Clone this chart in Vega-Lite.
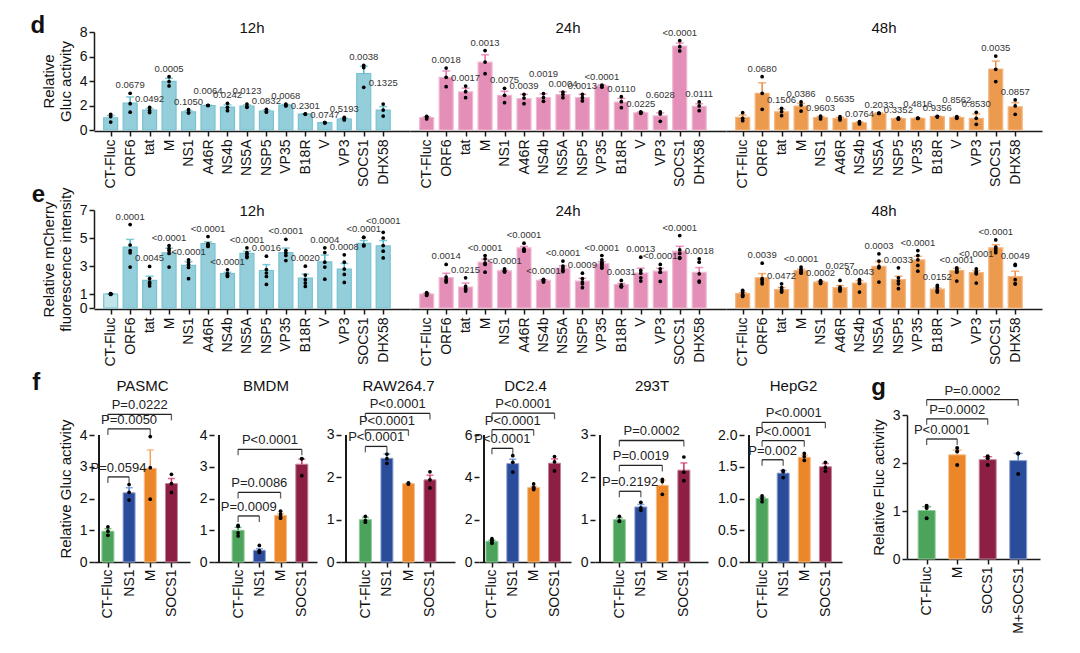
{
  "$schema": "https://vega.github.io/schema/vega-lite/v6.json",
  "background": "white",
  "padding": {"left": 30, "top": 13, "right": 4, "bottom": 4},
  "config": {
    "font": "Liberation Sans",
    "view": {"stroke": null},
    "axis": {"domainColor": "#1a1a1a", "domainWidth": 1.5, "tickColor": "#1a1a1a", "tickWidth": 1.5, "tickSize": 5, "labelFontSize": 14, "labelColor": "#111", "titleFontSize": 15, "titleFontWeight": "normal", "titleColor": "#111", "grid": false, "labelPadding": 2, "titlePadding": 6},
    "title": {"fontSize": 15, "fontWeight": "normal", "color": "#111"},
    "header": {"labelFontSize": 15, "labelColor": "#111", "labelFont": "Liberation Sans"}
  },
  "resolve": {"scale": {"fill": "independent", "stroke": "independent", "color": "independent"}},
  "spacing": 5,
  "datasets": {
    "d": [
      {"t": "12h", "g": "CT-Fluc", "m": 1.0, "e": 0.18, "pts": [1.28, 1.1, 0.65]},
      {"t": "12h", "g": "ORF6", "m": 2.2, "e": 0.5, "pts": [3.0, 2.15, 1.45], "p": "0.0679"},
      {"t": "12h", "g": "tat", "m": 1.62, "e": 0.13, "pts": [1.85, 1.6, 1.42], "p": "0.0492"},
      {"t": "12h", "g": "M", "m": 3.97, "e": 0.25, "pts": [4.35, 3.95, 3.6], "p": "0.0005"},
      {"t": "12h", "g": "NS1", "m": 1.48, "e": 0.1, "pts": [1.66, 1.4, 1.4], "p": "0.1050"},
      {"t": "12h", "g": "A46R", "m": 2.0, "e": 0.02, "pts": [2.02, 2.0, 2.0], "p": "0.0064", "ly": 2.53},
      {"t": "12h", "g": "NS4b", "m": 1.87, "e": 0.18, "pts": [2.18, 1.85, 1.58], "p": "0.0242"},
      {"t": "12h", "g": "NS5A", "m": 1.96, "e": 0.08, "pts": [2.12, 1.9, 1.85], "p": "0.0123", "ly": 2.55},
      {"t": "12h", "g": "NSP5", "m": 1.55, "e": 0.07, "pts": [1.69, 1.47, 1.47], "p": "0.0832"},
      {"t": "12h", "g": "VP35", "m": 2.03, "e": 0.05, "pts": [2.12, 2.0, 1.96], "p": "0.0068"},
      {"t": "12h", "g": "B18R", "m": 1.3, "e": 0.01, "pts": [1.3, 1.3, 1.3], "p": "0.2301"},
      {"t": "12h", "g": "V", "m": 0.6, "e": 0.01, "pts": [0.6, 0.6, 0.6], "p": "0.0747"},
      {"t": "12h", "g": "VP3", "m": 0.9, "e": 0.06, "pts": [1.03, 0.93, 0.82], "p": "0.5193"},
      {"t": "12h", "g": "SOCS1", "m": 4.6, "e": 0.6, "pts": [5.28, 5.1, 3.48], "p": "0.0038"},
      {"t": "12h", "g": "DHX58", "m": 1.63, "e": 0.28, "pts": [2.12, 1.63, 1.14], "p": "0.1325", "ly": 3.16},
      {"t": "24h", "g": "CT-Fluc", "m": 1.02, "e": 0.05, "pts": [1.12, 1.05, 0.9]},
      {"t": "24h", "g": "ORF6", "m": 4.3, "e": 0.52, "pts": [5.06, 4.3, 3.54], "p": "0.0018"},
      {"t": "24h", "g": "tat", "m": 3.12, "e": 0.3, "pts": [3.59, 3.13, 2.64], "p": "0.0017"},
      {"t": "24h", "g": "M", "m": 5.54, "e": 0.6, "pts": [6.48, 5.55, 4.6], "p": "0.0013"},
      {"t": "24h", "g": "NS1", "m": 2.82, "e": 0.35, "pts": [3.4, 2.83, 2.23], "p": "0.0075"},
      {"t": "24h", "g": "A46R", "m": 2.56, "e": 0.35, "pts": [2.91, 2.61, 2.15], "p": "0.0039"},
      {"t": "24h", "g": "NS4b", "m": 2.65, "e": 0.3, "pts": [2.97, 2.64, 2.34], "p": "0.0019", "ly": 3.92},
      {"t": "24h", "g": "NS5A", "m": 2.88, "e": 0.24, "pts": [3.1, 2.91, 2.64], "p": "0.0004"},
      {"t": "24h", "g": "NSP5", "m": 2.64, "e": 0.27, "pts": [2.91, 2.64, 2.37], "p": "0.0013"},
      {"t": "24h", "g": "VP35", "m": 3.6, "e": 0.08, "pts": [3.67, 3.59, 3.5], "p": "<0.0001"},
      {"t": "24h", "g": "B18R", "m": 2.28, "e": 0.3, "pts": [2.72, 2.31, 1.82], "p": "0.0110"},
      {"t": "24h", "g": "V", "m": 1.41, "e": 0.05, "pts": [1.47, 1.41, 1.36], "p": "0.0225"},
      {"t": "24h", "g": "VP3", "m": 1.16, "e": 0.23, "pts": [1.47, 1.31, 0.71], "p": "0.6028", "ly": 2.23},
      {"t": "24h", "g": "SOCS1", "m": 6.85, "e": 0.25, "pts": [7.29, 6.8, 6.45], "p": "<0.0001"},
      {"t": "24h", "g": "DHX58", "m": 1.94, "e": 0.2, "pts": [2.29, 1.96, 1.58], "p": "0.0111"},
      {"t": "48h", "g": "CT-Fluc", "m": 1.04, "e": 0.18, "pts": [1.41, 0.95, 0.76]},
      {"t": "48h", "g": "ORF6", "m": 3.0, "e": 0.85, "pts": [4.35, 2.99, 1.69], "p": "0.0680"},
      {"t": "48h", "g": "tat", "m": 1.48, "e": 0.2, "pts": [1.77, 1.5, 1.17], "p": "0.1506"},
      {"t": "48h", "g": "M", "m": 1.95, "e": 0.22, "pts": [2.29, 2.04, 1.55], "p": "0.0386"},
      {"t": "48h", "g": "NS1", "m": 1.02, "e": 0.08, "pts": [1.14, 1.03, 0.9], "p": "0.9603"},
      {"t": "48h", "g": "A46R", "m": 0.95, "e": 0.08, "pts": [1.09, 0.95, 0.82], "p": "0.5635", "ly": 1.85},
      {"t": "48h", "g": "NS4b", "m": 0.59, "e": 0.06, "pts": [0.68, 0.6, 0.49], "p": "0.0764"},
      {"t": "48h", "g": "NS5A", "m": 1.36, "e": 0.02, "pts": [1.37, 1.36, 1.35], "p": "0.2033"},
      {"t": "48h", "g": "NSP5", "m": 0.93, "e": 0.04, "pts": [0.98, 0.93, 0.88], "p": "0.3352"},
      {"t": "48h", "g": "VP35", "m": 0.95, "e": 0.02, "pts": [0.97, 0.95, 0.94], "p": "0.4816", "ly": 1.44},
      {"t": "48h", "g": "B18R", "m": 1.09, "e": 0.03, "pts": [1.12, 1.1, 1.06], "p": "0.9356"},
      {"t": "48h", "g": "V", "m": 1.02, "e": 0.05, "pts": [1.09, 1.03, 0.95], "p": "0.8562", "ly": 1.8},
      {"t": "48h", "g": "VP3", "m": 0.95, "e": 0.36, "pts": [1.44, 0.95, 0.46], "p": "0.8530"},
      {"t": "48h", "g": "SOCS1", "m": 4.98, "e": 0.65, "pts": [6.04, 4.95, 3.95], "p": "0.0035"},
      {"t": "48h", "g": "DHX58", "m": 1.9, "e": 0.33, "pts": [2.45, 1.96, 1.28], "p": "0.0857"}
    ],
    "e": [
      {"t": "12h", "g": "CT-Fluc", "m": 1.0, "e": 0.02, "pts": [1.03, 1.01, 1.0, 0.99, 0.97]},
      {"t": "12h", "g": "ORF6", "m": 4.35, "e": 0.55, "pts": [5.96, 4.5, 4.1, 3.94, 2.92], "p": "0.0001"},
      {"t": "12h", "g": "tat", "m": 1.97, "e": 0.3, "pts": [2.97, 2.1, 1.85, 1.75, 1.58], "p": "0.0045"},
      {"t": "12h", "g": "M", "m": 3.94, "e": 0.33, "pts": [4.46, 4.25, 4.1, 3.9, 2.92], "p": "<0.0001"},
      {"t": "12h", "g": "NS1", "m": 3.04, "e": 0.28, "pts": [3.44, 3.25, 3.1, 2.9, 2.09], "p": "<0.0001"},
      {"t": "12h", "g": "A46R", "m": 4.6, "e": 0.12, "pts": [5.1, 4.6, 4.55, 4.45, 4.4], "p": "<0.0001"},
      {"t": "12h", "g": "NS4b", "m": 2.45, "e": 0.1, "pts": [2.73, 2.45, 2.35, 2.3, 2.25], "p": "<0.0001"},
      {"t": "12h", "g": "NS5A", "m": 3.9, "e": 0.15, "pts": [4.3, 3.95, 3.85, 3.7, 3.6], "p": "<0.0001"},
      {"t": "12h", "g": "NSP5", "m": 2.68, "e": 0.42, "pts": [3.7, 2.75, 2.5, 2.25, 1.68], "p": "0.0016"},
      {"t": "12h", "g": "VP35", "m": 3.96, "e": 0.32, "pts": [4.91, 4.1, 3.92, 3.75, 3.39], "p": "<0.0001"},
      {"t": "12h", "g": "B18R", "m": 2.14, "e": 0.28, "pts": [2.99, 2.35, 2.02, 1.78, 1.54], "p": "0.0020"},
      {"t": "12h", "g": "V", "m": 3.3, "e": 0.48, "pts": [4.3, 3.96, 3.27, 2.92, 2.06], "p": "0.0004"},
      {"t": "12h", "g": "VP3", "m": 2.78, "e": 0.4, "pts": [3.8, 3.27, 2.78, 2.4, 1.83], "p": "0.0008"},
      {"t": "12h", "g": "SOCS1", "m": 4.62, "e": 0.2, "pts": [5.05, 5.05, 4.5, 4.45, 4.45], "p": "<0.0001"},
      {"t": "12h", "g": "DHX58", "m": 4.44, "e": 0.38, "pts": [5.41, 5.0, 4.46, 4.06, 3.58], "p": "<0.0001", "ly": 5.67},
      {"t": "24h", "g": "CT-Fluc", "m": 1.0, "e": 0.04, "pts": [1.1, 1.05, 1.0, 0.95, 0.9]},
      {"t": "24h", "g": "ORF6", "m": 2.18, "e": 0.3, "pts": [3.11, 2.21, 2.02, 1.92, 1.85], "p": "0.0014"},
      {"t": "24h", "g": "tat", "m": 1.5, "e": 0.28, "pts": [2.16, 1.54, 1.38, 1.31, 1.21], "p": "0.0215"},
      {"t": "24h", "g": "M", "m": 3.27, "e": 0.2, "pts": [3.75, 3.51, 3.2, 3.11, 2.56], "p": "<0.0001"},
      {"t": "24h", "g": "NS1", "m": 2.65, "e": 0.05, "pts": [2.8, 2.68, 2.62, 2.58, 2.6], "p": "<0.0001"},
      {"t": "24h", "g": "A46R", "m": 4.3, "e": 0.1, "pts": [4.63, 4.22, 4.15, 4.1, 4.06], "p": "<0.0001"},
      {"t": "24h", "g": "NS4b", "m": 1.97, "e": 0.05, "pts": [2.05, 2.0, 1.95, 1.92, 1.85], "p": "<0.0001"},
      {"t": "24h", "g": "NS5A", "m": 2.85, "e": 0.15, "pts": [3.35, 3.0, 2.85, 2.7, 2.6], "p": "<0.0001"},
      {"t": "24h", "g": "NSP5", "m": 1.92, "e": 0.2, "pts": [2.49, 2.09, 1.85, 1.73, 1.45], "p": "0.0009"},
      {"t": "24h", "g": "VP35", "m": 3.16, "e": 0.15, "pts": [3.75, 3.44, 3.27, 3.2, 3.1, 3.0, 2.9, 2.85], "p": "<0.0001"},
      {"t": "24h", "g": "B18R", "m": 1.68, "e": 0.08, "pts": [1.97, 1.65, 1.55, 1.55, 1.5], "p": "0.0031"},
      {"t": "24h", "g": "V", "m": 2.49, "e": 0.35, "pts": [3.63, 2.68, 2.49, 2.16, 1.92], "p": "0.0013"},
      {"t": "24h", "g": "VP3", "m": 2.63, "e": 0.2, "pts": [3.11, 2.8, 2.56, 2.56, 1.9], "p": "<0.0001"},
      {"t": "24h", "g": "SOCS1", "m": 4.06, "e": 0.35, "pts": [5.17, 4.15, 3.9, 3.6, 3.55], "p": "<0.0001"},
      {"t": "24h", "g": "DHX58", "m": 2.54, "e": 0.35, "pts": [3.51, 3.27, 2.44, 1.92, 1.85], "p": "0.0018"},
      {"t": "48h", "g": "CT-Fluc", "m": 1.02, "e": 0.08, "pts": [1.26, 1.14, 0.97, 0.9, 0.83]},
      {"t": "48h", "g": "ORF6", "m": 2.16, "e": 0.3, "pts": [3.2, 2.09, 2.02, 1.85, 1.73], "p": "0.0039"},
      {"t": "48h", "g": "tat", "m": 1.31, "e": 0.15, "pts": [1.73, 1.45, 1.31, 1.21, 1.14], "p": "0.0472"},
      {"t": "48h", "g": "M", "m": 2.68, "e": 0.1, "pts": [2.92, 2.75, 2.68, 2.55, 2.49], "p": "<0.0001"},
      {"t": "48h", "g": "NS1", "m": 1.85, "e": 0.06, "pts": [1.95, 1.9, 1.85, 1.8, 1.75], "p": "0.0002"},
      {"t": "48h", "g": "A46R", "m": 1.45, "e": 0.15, "pts": [1.97, 1.5, 1.38, 1.31, 1.21], "p": "0.0257", "ly": 2.4},
      {"t": "48h", "g": "NS4b", "m": 1.78, "e": 0.18, "pts": [2.02, 1.92, 1.8, 1.75, 1.14], "p": "0.0043"},
      {"t": "48h", "g": "NS5A", "m": 2.97, "e": 0.35, "pts": [3.87, 3.35, 2.97, 2.87, 1.85], "p": "0.0003"},
      {"t": "48h", "g": "NSP5", "m": 2.02, "e": 0.25, "pts": [2.87, 2.16, 1.92, 1.73, 1.38], "p": "0.0033"},
      {"t": "48h", "g": "VP35", "m": 3.44, "e": 0.25, "pts": [4.1, 3.75, 3.44, 3.04, 2.63], "p": "<0.0001"},
      {"t": "48h", "g": "B18R", "m": 1.35, "e": 0.08, "pts": [1.61, 1.5, 1.31, 1.21, 1.14], "p": "0.0152"},
      {"t": "48h", "g": "V", "m": 2.68, "e": 0.15, "pts": [2.87, 2.75, 2.63, 2.56, 1.92], "p": "<0.0001"},
      {"t": "48h", "g": "VP3", "m": 2.52, "e": 0.15, "pts": [2.8, 2.6, 2.5, 2.44, 1.78], "p": "<0.0001", "ly": 3.3},
      {"t": "48h", "g": "SOCS1", "m": 4.3, "e": 0.22, "pts": [4.86, 4.35, 4.25, 4.1, 3.95], "p": "<0.0001"},
      {"t": "48h", "g": "DHX58", "m": 2.25, "e": 0.38, "pts": [3.11, 3.04, 2.02, 1.73, 1.73], "p": "0.0049"}
    ],
    "f": [
      {"c": "PASMC", "g": "CT-Fluc", "m": 0.97, "e": 0.08, "pts": [1.11, 0.97, 0.84]},
      {"c": "PASMC", "g": "NS1", "m": 2.18, "e": 0.16, "pts": [2.44, 2.19, 1.95]},
      {"c": "PASMC", "g": "M", "m": 2.95, "e": 0.58, "pts": [3.95, 2.97, 1.98]},
      {"c": "PASMC", "g": "SOCS1", "m": 2.47, "e": 0.16, "pts": [2.76, 2.47, 2.19]},
      {"c": "PASMC", "b": "NS1", "h": 2.68, "p": "P=0.0594"},
      {"c": "PASMC", "b": "M", "h": 4.19, "p": "P=0.0050"},
      {"c": "PASMC", "b": "SOCS1", "h": 4.65, "p": "P=0.0222"},
      {"c": "BMDM", "g": "CT-Fluc", "m": 1.0, "e": 0.09, "pts": [1.15, 1.12, 0.92, 0.82]},
      {"c": "BMDM", "g": "NS1", "m": 0.37, "e": 0.05, "pts": [0.52, 0.36, 0.32, 0.3]},
      {"c": "BMDM", "g": "M", "m": 1.47, "e": 0.06, "pts": [1.6, 1.5, 1.42, 1.38]},
      {"c": "BMDM", "g": "SOCS1", "m": 3.08, "e": 0.16, "pts": [3.26, 3.25, 2.72]},
      {"c": "BMDM", "b": "NS1", "h": 1.45, "p": "P=0.0009"},
      {"c": "BMDM", "b": "M", "h": 2.19, "p": "P=0.0086"},
      {"c": "BMDM", "b": "SOCS1", "h": 3.55, "p": "P<0.0001"},
      {"c": "RAW264.7", "g": "CT-Fluc", "m": 1.0, "e": 0.05, "pts": [1.08, 0.98, 0.94]},
      {"c": "RAW264.7", "g": "NS1", "m": 2.45, "e": 0.1, "pts": [2.55, 2.44, 2.33]},
      {"c": "RAW264.7", "g": "M", "m": 1.85, "e": 0.01, "pts": [1.84, 1.87, 1.85]},
      {"c": "RAW264.7", "g": "SOCS1", "m": 1.94, "e": 0.11, "pts": [2.13, 1.94, 1.75]},
      {"c": "RAW264.7", "b": "NS1", "h": 2.73, "p": "P<0.0001"},
      {"c": "RAW264.7", "b": "M", "h": 3.12, "p": "P<0.0001"},
      {"c": "RAW264.7", "b": "SOCS1", "h": 3.51, "p": "P<0.0001"},
      {"c": "DC2.4", "g": "CT-Fluc", "m": 0.98, "e": 0.05, "pts": [1.1, 1.03, 0.95, 0.88]},
      {"c": "DC2.4", "g": "NS1", "m": 4.65, "e": 0.2, "pts": [5.02, 4.71, 4.25]},
      {"c": "DC2.4", "g": "M", "m": 3.52, "e": 0.05, "pts": [3.69, 3.53, 3.47, 3.42]},
      {"c": "DC2.4", "g": "SOCS1", "m": 4.67, "e": 0.2, "pts": [4.98, 4.73, 4.3]},
      {"c": "DC2.4", "b": "NS1", "h": 5.37, "p": "P<0.0001"},
      {"c": "DC2.4", "b": "M", "h": 6.25, "p": "P<0.0001"},
      {"c": "DC2.4", "b": "SOCS1", "h": 7.03, "p": "P<0.0001"},
      {"c": "293T", "g": "CT-Fluc", "m": 1.0, "e": 0.04, "pts": [1.08, 0.97, 0.96]},
      {"c": "293T", "g": "NS1", "m": 1.3, "e": 0.06, "pts": [1.41, 1.28, 1.22]},
      {"c": "293T", "g": "M", "m": 1.81, "e": 0.12, "pts": [1.95, 1.9, 1.6]},
      {"c": "293T", "g": "SOCS1", "m": 2.17, "e": 0.17, "pts": [2.48, 2.12, 1.92]},
      {"c": "293T", "b": "NS1", "h": 1.67, "p": "P=0.2192"},
      {"c": "293T", "b": "M", "h": 2.28, "p": "P=0.0019"},
      {"c": "293T", "b": "SOCS1", "h": 2.87, "p": "P=0.0002"},
      {"c": "HepG2", "g": "CT-Fluc", "m": 1.0, "e": 0.02, "pts": [1.04, 1.0, 0.95]},
      {"c": "HepG2", "g": "NS1", "m": 1.4, "e": 0.04, "pts": [1.44, 1.42, 1.33]},
      {"c": "HepG2", "g": "M", "m": 1.65, "e": 0.03, "pts": [1.71, 1.66, 1.6]},
      {"c": "HepG2", "g": "SOCS1", "m": 1.5, "e": 0.05, "pts": [1.57, 1.49, 1.43]},
      {"c": "HepG2", "b": "NS1", "h": 1.61, "p": "P=0.002"},
      {"c": "HepG2", "b": "M", "h": 1.91, "p": "P<0.0001"},
      {"c": "HepG2", "b": "SOCS1", "h": 2.2, "p": "P<0.0001"},
      {"c": "g", "g": "CT-Fluc", "m": 1.01, "e": 0.08, "pts": [1.11, 1.06, 0.85]},
      {"c": "g", "g": "M", "m": 2.17, "e": 0.1, "pts": [2.31, 2.24, 1.96]},
      {"c": "g", "g": "SOCS1", "m": 2.07, "e": 0.06, "pts": [2.14, 2.1, 1.96]},
      {"c": "g", "g": "M+SOCS1", "m": 2.05, "e": 0.15, "pts": [2.2, 2.2, 1.77]},
      {"c": "g", "b": "M", "h": 2.5, "p": "P<0.0001"},
      {"c": "g", "b": "SOCS1", "h": 2.92, "p": "P=0.0002"},
      {"c": "g", "b": "M+SOCS1", "h": 3.32, "p": "P=0.0002"}
    ]
  },
  "vconcat": [
    {
      "spacing": -6,
      "vconcat": [
        {
          "data": {"name": "d"},
          "transform": [
            {"window": [{"op": "row_number", "as": "rn"}], "groupby": ["t"]},
            {"calculate": "datum.rn - 1", "as": "i"},
            {"calculate": "datum.m + datum.e", "as": "hi"},
            {"calculate": "isValid(datum.ly) ? datum.ly : max(datum.m + datum.e, datum.pts[0])", "as": "lab"}
          ],
          "title": {"text": "d", "orient": "left", "angle": 0, "anchor": "end", "align": "left", "baseline": "top", "fontSize": 24, "fontWeight": "bold", "offset": -4, "dy": -7},
          "facet": {"column": {"field": "t", "type": "nominal", "header": {"title": null, "labelPadding": -8.5}}},
          "spacing": 0,
          "spec": {
            "width": 316,
            "height": 98,
            "encoding": {
              "x": {"field": "i", "type": "quantitative", "scale": {"domain": [-0.6, 15.12]}, "axis": {"title": null, "values": [0, 1, 2, 3, 4, 5, 6, 7, 8, 9, 10, 11, 12, 13, 14], "labelExpr": "['CT-Fluc', 'ORF6', 'tat', 'M', 'NS1', 'A46R', 'NS4b', 'NS5A', 'NSP5', 'VP35', 'B18R', 'V', 'VP3', 'SOCS1', 'DHX58'][datum.value]", "labelAngle": -90, "labelPadding": 3, "labelFontSize": 14}},
              "y": {"field": "m", "type": "quantitative", "scale": {"domain": [0, 8]}, "axis": {"values": [0, 2, 4, 6, 8], "title": ["Relative", "Gluc activity"]}}
            },
            "layer": [
              {"mark": {"type": "bar", "orient": "vertical", "width": 14, "strokeWidth": 1.2},
               "encoding": {
                 "fill": {"field": "t", "type": "nominal", "scale": {"domain": ["12h", "24h", "48h"], "range": ["#94CEDA", "#E38FB8", "#EC9A4E"]}, "legend": null},
                 "stroke": {"field": "t", "type": "nominal", "scale": {"domain": ["12h", "24h", "48h"], "range": ["#78C3D1", "#F0B8D2", "#F4B783"]}, "legend": null}}},
              {"mark": {"type": "rule", "strokeWidth": 1.5},
               "encoding": {"y2": {"field": "hi"}, "color": {"field": "t", "type": "nominal", "scale": {"domain": ["12h", "24h", "48h"], "range": ["#4CB5C6", "#E46AA6", "#EE8A3A"]}, "legend": null}}},
              {"mark": {"type": "tick", "orient": "horizontal", "size": 8, "thickness": 1.5},
               "encoding": {"y": {"field": "hi", "type": "quantitative"}, "color": {"field": "t", "type": "nominal", "scale": {"domain": ["12h", "24h", "48h"], "range": ["#4CB5C6", "#E46AA6", "#EE8A3A"]}, "legend": null}}},
              {"transform": [
                 {"flatten": ["pts"], "as": ["v"]},
                 {"window": [{"op": "row_number", "as": "k"}], "groupby": ["t", "g"]},
                 {"joinaggregate": [{"op": "count", "as": "n"}], "groupby": ["t", "g"]},
                 {"calculate": "datum.k - (datum.n + 1) / 2", "as": "o"}],
               "mark": {"type": "circle", "size": 14, "color": "#000", "opacity": 1},
               "encoding": {"y": {"field": "v", "type": "quantitative"}, "xOffset": {"field": "o", "type": "quantitative", "scale": {"domain": [-2, 2], "range": [-8, 8]}}}},
              {"transform": [{"filter": "isValid(datum.p)"}],
               "mark": {"type": "text", "fontSize": 9.5, "dy": -8, "color": "#333"},
               "encoding": {"y": {"field": "lab", "type": "quantitative"}, "text": {"field": "p"}}}
            ]
          }
        },
        {
          "data": {"name": "e"},
          "transform": [
            {"window": [{"op": "row_number", "as": "rn"}], "groupby": ["t"]},
            {"calculate": "datum.rn - 1", "as": "i"},
            {"calculate": "datum.m + datum.e", "as": "hi"},
            {"calculate": "isValid(datum.ly) ? datum.ly : max(datum.m + datum.e, datum.pts[0])", "as": "lab"}
          ],
          "title": {"text": "e", "orient": "left", "angle": 0, "anchor": "end", "align": "left", "baseline": "top", "fontSize": 24, "fontWeight": "bold", "offset": -4, "dy": -4},
          "facet": {"column": {"field": "t", "type": "nominal", "header": {"title": null, "labelPadding": -8.5}}},
          "spacing": 0,
          "spec": {
            "width": 316,
            "height": 98,
            "encoding": {
              "x": {"field": "i", "type": "quantitative", "scale": {"domain": [-0.6, 15.12]}, "axis": {"title": null, "values": [0, 1, 2, 3, 4, 5, 6, 7, 8, 9, 10, 11, 12, 13, 14], "labelExpr": "['CT-Fluc', 'ORF6', 'tat', 'M', 'NS1', 'A46R', 'NS4b', 'NS5A', 'NSP5', 'VP35', 'B18R', 'V', 'VP3', 'SOCS1', 'DHX58'][datum.value]", "labelAngle": -90, "labelPadding": 3, "labelFontSize": 14}},
              "y": {"field": "m", "type": "quantitative", "scale": {"domain": [0, 7]}, "axis": {"values": [0, 1, 3, 5, 7], "title": ["Relative mCherry", "fluorescence intensity"]}}
            },
            "layer": [
              {"mark": {"type": "bar", "orient": "vertical", "width": 14, "strokeWidth": 1.2},
               "encoding": {
                 "fill": {"condition": {"test": "datum.g == 'CT-Fluc' && datum.t == '12h'", "value": "#C2E4EB"}, "field": "t", "type": "nominal", "scale": {"domain": ["12h", "24h", "48h"], "range": ["#94CEDA", "#E38FB8", "#EC9A4E"]}, "legend": null},
                 "stroke": {"field": "t", "type": "nominal", "scale": {"domain": ["12h", "24h", "48h"], "range": ["#78C3D1", "#F0B8D2", "#F4B783"]}, "legend": null}}},
              {"mark": {"type": "rule", "strokeWidth": 1.5},
               "encoding": {"y2": {"field": "hi"}, "color": {"field": "t", "type": "nominal", "scale": {"domain": ["12h", "24h", "48h"], "range": ["#4CB5C6", "#E46AA6", "#EE8A3A"]}, "legend": null}}},
              {"mark": {"type": "tick", "orient": "horizontal", "size": 8, "thickness": 1.5},
               "encoding": {"y": {"field": "hi", "type": "quantitative"}, "color": {"field": "t", "type": "nominal", "scale": {"domain": ["12h", "24h", "48h"], "range": ["#4CB5C6", "#E46AA6", "#EE8A3A"]}, "legend": null}}},
              {"transform": [
                 {"flatten": ["pts"], "as": ["v"]},
                 {"window": [{"op": "row_number", "as": "k"}], "groupby": ["t", "g"]},
                 {"joinaggregate": [{"op": "count", "as": "n"}], "groupby": ["t", "g"]},
                 {"calculate": "datum.k - (datum.n + 1) / 2", "as": "o"}],
               "mark": {"type": "circle", "size": 14, "color": "#000", "opacity": 1},
               "encoding": {"y": {"field": "v", "type": "quantitative"}, "xOffset": {"field": "o", "type": "quantitative", "scale": {"domain": [-2, 2], "range": [-5, 5]}}}},
              {"transform": [{"filter": "isValid(datum.p)"}],
               "mark": {"type": "text", "fontSize": 9.5, "dy": -8, "color": "#333"},
               "encoding": {"y": {"field": "lab", "type": "quantitative"}, "text": {"field": "p"}}}
            ]
          }
        }
      ]
    },
    {
      "data": {"name": "f"},
      "transform": [
        {"calculate": "datum.c == 'g' ? (datum.g == 'M' ? 1 : datum.g == 'SOCS1' ? 2 : datum.g == 'M+SOCS1' ? 3 : 0) : (datum.g == 'NS1' ? 1 : datum.g == 'M' ? 2 : datum.g == 'SOCS1' ? 3 : 0)", "as": "i"},
        {"calculate": "datum.c == 'g' ? (datum.b == 'M' ? 1 : datum.b == 'SOCS1' ? 2 : datum.b == 'M+SOCS1' ? 3 : 0) : (datum.b == 'NS1' ? 1 : datum.b == 'M' ? 2 : datum.b == 'SOCS1' ? 3 : 0)", "as": "ib"},
        {"calculate": "datum.ib / 2", "as": "mid"},
        {"calculate": "datum.m + datum.e", "as": "hi"}
      ],
      "spacing": 29,
      "hconcat": [
        {
          "title": {"text": "f", "orient": "left", "angle": 0, "anchor": "end", "align": "left", "baseline": "top", "fontSize": 24, "fontWeight": "bold", "offset": 18, "dy": -7},
          "spacing": 9,
          "hconcat": [
            {
              "width": 96, "height": 147,
              "transform": [{"filter": "datum.c == 'PASMC'"}],
              "encoding": {
                "x": {"field": "i", "type": "quantitative", "scale": {"domain": [-0.42, 3.64]}, "axis": null},
                "y": {"field": "m", "type": "quantitative", "scale": {"domain": [0, 4.63]}, "axis": {"values": [0, 1, 2, 3, 4], "title": "Relative Gluc activity", "domain": false}}
              },
              "resolve": {"axis": {"x": "independent"}},
              "layer": [
                {"mark": {"type": "rule", "strokeWidth": 1.5, "color": "#1a1a1a"},
                 "encoding": {"x": {"datum": -0.42, "type": "quantitative", "axis": null}, "y": {"datum": 0, "type": "quantitative"}, "y2": {"datum": 4}}},
                {"transform": [{"filter": "isValid(datum.m)"}], "mark": {"type": "bar", "orient": "vertical", "width": 12, "strokeWidth": 1},
                 "encoding": {"x": {"field": "i", "type": "quantitative", "axis": {"values": [0, 1, 2, 3], "labelExpr": "['CT-Fluc', 'NS1', 'M', 'SOCS1'][datum.value]", "labelAngle": -90, "title": null}},
                              "fill": {"field": "g", "type": "nominal", "scale": {"domain": ["CT-Fluc", "NS1", "M", "SOCS1", "M+SOCS1"], "range": ["#4CA35B", "#2B4B9B", "#EB8629", "#8C1F43", "#2B4B9B"]}, "legend": null},
                              "stroke": {"field": "g", "type": "nominal", "scale": {"domain": ["CT-Fluc", "NS1", "M", "SOCS1", "M+SOCS1"], "range": ["#8CCB93", "#8FA3D3", "#F6BE8A", "#C48499", "#8FA3D3"]}, "legend": null}}},
                {"transform": [{"filter": "isValid(datum.m)"}], "mark": {"type": "rule", "strokeWidth": 1.5},
                 "encoding": {"y2": {"field": "hi"}, "color": {"field": "g", "type": "nominal", "scale": {"domain": ["CT-Fluc", "NS1", "M", "SOCS1", "M+SOCS1"], "range": ["#3E9C4E", "#4C7FD0", "#F4A25A", "#D0305E", "#4C7FD0"]}, "legend": null}}},
                {"transform": [{"filter": "isValid(datum.m)"}], "mark": {"type": "tick", "orient": "horizontal", "size": 7, "thickness": 1.5},
                 "encoding": {"y": {"field": "hi", "type": "quantitative"}, "color": {"field": "g", "type": "nominal", "scale": {"domain": ["CT-Fluc", "NS1", "M", "SOCS1", "M+SOCS1"], "range": ["#3E9C4E", "#4C7FD0", "#F4A25A", "#D0305E", "#4C7FD0"]}, "legend": null}}},
                {"transform": [{"filter": "isValid(datum.m)"}, {"flatten": ["pts"], "as": ["v"]}, {"window": [{"op": "row_number", "as": "k"}], "groupby": ["g"]}, {"joinaggregate": [{"op": "count", "as": "n"}], "groupby": ["g"]}, {"calculate": "datum.k - (datum.n + 1) / 2", "as": "o"}],
                 "mark": {"type": "circle", "size": 14, "color": "#000", "opacity": 1},
                 "encoding": {"y": {"field": "v", "type": "quantitative"}, "xOffset": {"field": "o", "type": "quantitative", "scale": {"domain": [-2, 2], "range": [-6, 6]}}}},
                {"transform": [{"filter": "isValid(datum.h)"}], "mark": {"type": "rule", "strokeWidth": 1.3, "color": "#222"},
                 "encoding": {"x": {"datum": 0, "type": "quantitative", "axis": null}, "x2": {"field": "ib"}, "y": {"field": "h", "type": "quantitative"}}},
                {"transform": [{"filter": "isValid(datum.h)"}], "mark": {"type": "tick", "orient": "vertical", "size": 6, "thickness": 1.3, "yOffset": 3, "color": "#222"},
                 "encoding": {"x": {"datum": 0, "type": "quantitative", "axis": null}, "y": {"field": "h", "type": "quantitative"}}},
                {"transform": [{"filter": "isValid(datum.h)"}], "mark": {"type": "tick", "orient": "vertical", "size": 6, "thickness": 1.3, "yOffset": 3, "color": "#222"},
                 "encoding": {"x": {"field": "ib", "type": "quantitative", "axis": null}, "y": {"field": "h", "type": "quantitative"}}},
                {"transform": [{"filter": "isValid(datum.h)"}], "mark": {"type": "text", "fontSize": 13, "dy": -9, "color": "#222"},
                 "encoding": {"x": {"field": "mid", "type": "quantitative", "axis": {"orient": "top", "title": "PASMC", "domain": false, "ticks": false, "labels": false, "titlePadding": 22}}, "y": {"field": "h", "type": "quantitative"}, "text": {"field": "p"}}}
              ]
            },
            {
              "width": 103, "height": 147,
              "transform": [{"filter": "datum.c == 'BMDM'"}],
              "encoding": {
                "x": {"field": "i", "type": "quantitative", "scale": {"domain": [-0.9, 3.48]}, "axis": null},
                "y": {"field": "m", "type": "quantitative", "scale": {"domain": [0, 4.63]}, "axis": {"values": [0, 1, 2, 3, 4], "title": null, "domain": false}}
              },
              "resolve": {"axis": {"x": "independent"}},
              "layer": [
                {"mark": {"type": "rule", "strokeWidth": 1.5, "color": "#1a1a1a"},
                 "encoding": {"x": {"datum": -0.9, "type": "quantitative", "axis": null}, "y": {"datum": 0, "type": "quantitative"}, "y2": {"datum": 4}}},
                {"transform": [{"filter": "isValid(datum.m)"}], "mark": {"type": "bar", "orient": "vertical", "width": 12, "strokeWidth": 1},
                 "encoding": {"x": {"field": "i", "type": "quantitative", "axis": {"values": [0, 1, 2, 3], "labelExpr": "['CT-Fluc', 'NS1', 'M', 'SOCS1'][datum.value]", "labelAngle": -90, "title": null}},
                              "fill": {"field": "g", "type": "nominal", "scale": {"domain": ["CT-Fluc", "NS1", "M", "SOCS1", "M+SOCS1"], "range": ["#4CA35B", "#2B4B9B", "#EB8629", "#8C1F43", "#2B4B9B"]}, "legend": null},
                              "stroke": {"field": "g", "type": "nominal", "scale": {"domain": ["CT-Fluc", "NS1", "M", "SOCS1", "M+SOCS1"], "range": ["#8CCB93", "#8FA3D3", "#F6BE8A", "#C48499", "#8FA3D3"]}, "legend": null}}},
                {"transform": [{"filter": "isValid(datum.m)"}], "mark": {"type": "rule", "strokeWidth": 1.5},
                 "encoding": {"y2": {"field": "hi"}, "color": {"field": "g", "type": "nominal", "scale": {"domain": ["CT-Fluc", "NS1", "M", "SOCS1", "M+SOCS1"], "range": ["#3E9C4E", "#4C7FD0", "#F4A25A", "#D0305E", "#4C7FD0"]}, "legend": null}}},
                {"transform": [{"filter": "isValid(datum.m)"}], "mark": {"type": "tick", "orient": "horizontal", "size": 7, "thickness": 1.5},
                 "encoding": {"y": {"field": "hi", "type": "quantitative"}, "color": {"field": "g", "type": "nominal", "scale": {"domain": ["CT-Fluc", "NS1", "M", "SOCS1", "M+SOCS1"], "range": ["#3E9C4E", "#4C7FD0", "#F4A25A", "#D0305E", "#4C7FD0"]}, "legend": null}}},
                {"transform": [{"filter": "isValid(datum.m)"}, {"flatten": ["pts"], "as": ["v"]}, {"window": [{"op": "row_number", "as": "k"}], "groupby": ["g"]}, {"joinaggregate": [{"op": "count", "as": "n"}], "groupby": ["g"]}, {"calculate": "datum.k - (datum.n + 1) / 2", "as": "o"}],
                 "mark": {"type": "circle", "size": 14, "color": "#000", "opacity": 1},
                 "encoding": {"y": {"field": "v", "type": "quantitative"}, "xOffset": {"field": "o", "type": "quantitative", "scale": {"domain": [-2, 2], "range": [-6, 6]}}}},
                {"transform": [{"filter": "isValid(datum.h)"}], "mark": {"type": "rule", "strokeWidth": 1.3, "color": "#222"},
                 "encoding": {"x": {"datum": 0, "type": "quantitative", "axis": null}, "x2": {"field": "ib"}, "y": {"field": "h", "type": "quantitative"}}},
                {"transform": [{"filter": "isValid(datum.h)"}], "mark": {"type": "tick", "orient": "vertical", "size": 6, "thickness": 1.3, "yOffset": 3, "color": "#222"},
                 "encoding": {"x": {"datum": 0, "type": "quantitative", "axis": null}, "y": {"field": "h", "type": "quantitative"}}},
                {"transform": [{"filter": "isValid(datum.h)"}], "mark": {"type": "tick", "orient": "vertical", "size": 6, "thickness": 1.3, "yOffset": 3, "color": "#222"},
                 "encoding": {"x": {"field": "ib", "type": "quantitative", "axis": null}, "y": {"field": "h", "type": "quantitative"}}},
                {"transform": [{"filter": "isValid(datum.h)"}], "mark": {"type": "text", "fontSize": 13, "dy": -9, "color": "#222"},
                 "encoding": {"x": {"field": "mid", "type": "quantitative", "axis": {"orient": "top", "title": "BMDM", "domain": false, "ticks": false, "labels": false, "titlePadding": 22}}, "y": {"field": "h", "type": "quantitative"}, "text": {"field": "p"}}}
              ]
            },
            {
              "width": 114, "height": 147,
              "transform": [{"filter": "datum.c == 'RAW264.7'"}],
              "encoding": {
                "x": {"field": "i", "type": "quantitative", "scale": {"domain": [-0.9, 3.93]}, "axis": null},
                "y": {"field": "m", "type": "quantitative", "scale": {"domain": [0, 3.472]}, "axis": {"values": [0, 1, 2, 3], "title": null, "domain": false}}
              },
              "resolve": {"axis": {"x": "independent"}},
              "layer": [
                {"mark": {"type": "rule", "strokeWidth": 1.5, "color": "#1a1a1a"},
                 "encoding": {"x": {"datum": -0.9, "type": "quantitative", "axis": null}, "y": {"datum": 0, "type": "quantitative"}, "y2": {"datum": 3}}},
                {"transform": [{"filter": "isValid(datum.m)"}], "mark": {"type": "bar", "orient": "vertical", "width": 12, "strokeWidth": 1},
                 "encoding": {"x": {"field": "i", "type": "quantitative", "axis": {"values": [0, 1, 2, 3], "labelExpr": "['CT-Fluc', 'NS1', 'M', 'SOCS1'][datum.value]", "labelAngle": -90, "title": null}},
                              "fill": {"field": "g", "type": "nominal", "scale": {"domain": ["CT-Fluc", "NS1", "M", "SOCS1", "M+SOCS1"], "range": ["#4CA35B", "#2B4B9B", "#EB8629", "#8C1F43", "#2B4B9B"]}, "legend": null},
                              "stroke": {"field": "g", "type": "nominal", "scale": {"domain": ["CT-Fluc", "NS1", "M", "SOCS1", "M+SOCS1"], "range": ["#8CCB93", "#8FA3D3", "#F6BE8A", "#C48499", "#8FA3D3"]}, "legend": null}}},
                {"transform": [{"filter": "isValid(datum.m)"}], "mark": {"type": "rule", "strokeWidth": 1.5},
                 "encoding": {"y2": {"field": "hi"}, "color": {"field": "g", "type": "nominal", "scale": {"domain": ["CT-Fluc", "NS1", "M", "SOCS1", "M+SOCS1"], "range": ["#3E9C4E", "#4C7FD0", "#F4A25A", "#D0305E", "#4C7FD0"]}, "legend": null}}},
                {"transform": [{"filter": "isValid(datum.m)"}], "mark": {"type": "tick", "orient": "horizontal", "size": 7, "thickness": 1.5},
                 "encoding": {"y": {"field": "hi", "type": "quantitative"}, "color": {"field": "g", "type": "nominal", "scale": {"domain": ["CT-Fluc", "NS1", "M", "SOCS1", "M+SOCS1"], "range": ["#3E9C4E", "#4C7FD0", "#F4A25A", "#D0305E", "#4C7FD0"]}, "legend": null}}},
                {"transform": [{"filter": "isValid(datum.m)"}, {"flatten": ["pts"], "as": ["v"]}, {"window": [{"op": "row_number", "as": "k"}], "groupby": ["g"]}, {"joinaggregate": [{"op": "count", "as": "n"}], "groupby": ["g"]}, {"calculate": "datum.k - (datum.n + 1) / 2", "as": "o"}],
                 "mark": {"type": "circle", "size": 14, "color": "#000", "opacity": 1},
                 "encoding": {"y": {"field": "v", "type": "quantitative"}, "xOffset": {"field": "o", "type": "quantitative", "scale": {"domain": [-2, 2], "range": [-6, 6]}}}},
                {"transform": [{"filter": "isValid(datum.h)"}], "mark": {"type": "rule", "strokeWidth": 1.3, "color": "#222"},
                 "encoding": {"x": {"datum": 0, "type": "quantitative", "axis": null}, "x2": {"field": "ib"}, "y": {"field": "h", "type": "quantitative"}}},
                {"transform": [{"filter": "isValid(datum.h)"}], "mark": {"type": "tick", "orient": "vertical", "size": 6, "thickness": 1.3, "yOffset": 3, "color": "#222"},
                 "encoding": {"x": {"datum": 0, "type": "quantitative", "axis": null}, "y": {"field": "h", "type": "quantitative"}}},
                {"transform": [{"filter": "isValid(datum.h)"}], "mark": {"type": "tick", "orient": "vertical", "size": 6, "thickness": 1.3, "yOffset": 3, "color": "#222"},
                 "encoding": {"x": {"field": "ib", "type": "quantitative", "axis": null}, "y": {"field": "h", "type": "quantitative"}}},
                {"transform": [{"filter": "isValid(datum.h)"}], "mark": {"type": "text", "fontSize": 13, "dy": -9, "color": "#222"},
                 "encoding": {"x": {"field": "mid", "type": "quantitative", "axis": {"orient": "top", "title": "RAW264.7", "domain": false, "ticks": false, "labels": false, "titlePadding": 22}}, "y": {"field": "h", "type": "quantitative"}, "text": {"field": "p"}}}
              ]
            },
            {
              "width": 92, "height": 147,
              "transform": [{"filter": "datum.c == 'DC2.4'"}],
              "encoding": {
                "x": {"field": "i", "type": "quantitative", "scale": {"domain": [-0.38, 3.55]}, "axis": null},
                "y": {"field": "m", "type": "quantitative", "scale": {"domain": [0, 6.945]}, "axis": {"values": [0, 2, 4, 6], "title": null, "domain": false}}
              },
              "resolve": {"axis": {"x": "independent"}},
              "layer": [
                {"mark": {"type": "rule", "strokeWidth": 1.5, "color": "#1a1a1a"},
                 "encoding": {"x": {"datum": -0.38, "type": "quantitative", "axis": null}, "y": {"datum": 0, "type": "quantitative"}, "y2": {"datum": 6}}},
                {"transform": [{"filter": "isValid(datum.m)"}], "mark": {"type": "bar", "orient": "vertical", "width": 12, "strokeWidth": 1},
                 "encoding": {"x": {"field": "i", "type": "quantitative", "axis": {"values": [0, 1, 2, 3], "labelExpr": "['CT-Fluc', 'NS1', 'M', 'SOCS1'][datum.value]", "labelAngle": -90, "title": null}},
                              "fill": {"field": "g", "type": "nominal", "scale": {"domain": ["CT-Fluc", "NS1", "M", "SOCS1", "M+SOCS1"], "range": ["#4CA35B", "#2B4B9B", "#EB8629", "#8C1F43", "#2B4B9B"]}, "legend": null},
                              "stroke": {"field": "g", "type": "nominal", "scale": {"domain": ["CT-Fluc", "NS1", "M", "SOCS1", "M+SOCS1"], "range": ["#8CCB93", "#8FA3D3", "#F6BE8A", "#C48499", "#8FA3D3"]}, "legend": null}}},
                {"transform": [{"filter": "isValid(datum.m)"}], "mark": {"type": "rule", "strokeWidth": 1.5},
                 "encoding": {"y2": {"field": "hi"}, "color": {"field": "g", "type": "nominal", "scale": {"domain": ["CT-Fluc", "NS1", "M", "SOCS1", "M+SOCS1"], "range": ["#3E9C4E", "#4C7FD0", "#F4A25A", "#D0305E", "#4C7FD0"]}, "legend": null}}},
                {"transform": [{"filter": "isValid(datum.m)"}], "mark": {"type": "tick", "orient": "horizontal", "size": 7, "thickness": 1.5},
                 "encoding": {"y": {"field": "hi", "type": "quantitative"}, "color": {"field": "g", "type": "nominal", "scale": {"domain": ["CT-Fluc", "NS1", "M", "SOCS1", "M+SOCS1"], "range": ["#3E9C4E", "#4C7FD0", "#F4A25A", "#D0305E", "#4C7FD0"]}, "legend": null}}},
                {"transform": [{"filter": "isValid(datum.m)"}, {"flatten": ["pts"], "as": ["v"]}, {"window": [{"op": "row_number", "as": "k"}], "groupby": ["g"]}, {"joinaggregate": [{"op": "count", "as": "n"}], "groupby": ["g"]}, {"calculate": "datum.k - (datum.n + 1) / 2", "as": "o"}],
                 "mark": {"type": "circle", "size": 14, "color": "#000", "opacity": 1},
                 "encoding": {"y": {"field": "v", "type": "quantitative"}, "xOffset": {"field": "o", "type": "quantitative", "scale": {"domain": [-2, 2], "range": [-6, 6]}}}},
                {"transform": [{"filter": "isValid(datum.h)"}], "mark": {"type": "rule", "strokeWidth": 1.3, "color": "#222"},
                 "encoding": {"x": {"datum": 0, "type": "quantitative", "axis": null}, "x2": {"field": "ib"}, "y": {"field": "h", "type": "quantitative"}}},
                {"transform": [{"filter": "isValid(datum.h)"}], "mark": {"type": "tick", "orient": "vertical", "size": 6, "thickness": 1.3, "yOffset": 3, "color": "#222"},
                 "encoding": {"x": {"datum": 0, "type": "quantitative", "axis": null}, "y": {"field": "h", "type": "quantitative"}}},
                {"transform": [{"filter": "isValid(datum.h)"}], "mark": {"type": "tick", "orient": "vertical", "size": 6, "thickness": 1.3, "yOffset": 3, "color": "#222"},
                 "encoding": {"x": {"field": "ib", "type": "quantitative", "axis": null}, "y": {"field": "h", "type": "quantitative"}}},
                {"transform": [{"filter": "isValid(datum.h)"}], "mark": {"type": "text", "fontSize": 13, "dy": -9, "color": "#222"},
                 "encoding": {"x": {"field": "mid", "type": "quantitative", "axis": {"orient": "top", "title": "DC2.4", "domain": false, "ticks": false, "labels": false, "titlePadding": 22}}, "y": {"field": "h", "type": "quantitative"}, "text": {"field": "p"}}}
              ]
            },
            {
              "width": 113, "height": 147,
              "transform": [{"filter": "datum.c == '293T'"}],
              "encoding": {
                "x": {"field": "i", "type": "quantitative", "scale": {"domain": [-0.9, 3.89]}, "axis": null},
                "y": {"field": "m", "type": "quantitative", "scale": {"domain": [0, 3.472]}, "axis": {"values": [0, 1, 2, 3], "title": null, "domain": false}}
              },
              "resolve": {"axis": {"x": "independent"}},
              "layer": [
                {"mark": {"type": "rule", "strokeWidth": 1.5, "color": "#1a1a1a"},
                 "encoding": {"x": {"datum": -0.9, "type": "quantitative", "axis": null}, "y": {"datum": 0, "type": "quantitative"}, "y2": {"datum": 3}}},
                {"transform": [{"filter": "isValid(datum.m)"}], "mark": {"type": "bar", "orient": "vertical", "width": 12, "strokeWidth": 1},
                 "encoding": {"x": {"field": "i", "type": "quantitative", "axis": {"values": [0, 1, 2, 3], "labelExpr": "['CT-Fluc', 'NS1', 'M', 'SOCS1'][datum.value]", "labelAngle": -90, "title": null}},
                              "fill": {"field": "g", "type": "nominal", "scale": {"domain": ["CT-Fluc", "NS1", "M", "SOCS1", "M+SOCS1"], "range": ["#4CA35B", "#2B4B9B", "#EB8629", "#8C1F43", "#2B4B9B"]}, "legend": null},
                              "stroke": {"field": "g", "type": "nominal", "scale": {"domain": ["CT-Fluc", "NS1", "M", "SOCS1", "M+SOCS1"], "range": ["#8CCB93", "#8FA3D3", "#F6BE8A", "#C48499", "#8FA3D3"]}, "legend": null}}},
                {"transform": [{"filter": "isValid(datum.m)"}], "mark": {"type": "rule", "strokeWidth": 1.5},
                 "encoding": {"y2": {"field": "hi"}, "color": {"field": "g", "type": "nominal", "scale": {"domain": ["CT-Fluc", "NS1", "M", "SOCS1", "M+SOCS1"], "range": ["#3E9C4E", "#4C7FD0", "#F4A25A", "#D0305E", "#4C7FD0"]}, "legend": null}}},
                {"transform": [{"filter": "isValid(datum.m)"}], "mark": {"type": "tick", "orient": "horizontal", "size": 7, "thickness": 1.5},
                 "encoding": {"y": {"field": "hi", "type": "quantitative"}, "color": {"field": "g", "type": "nominal", "scale": {"domain": ["CT-Fluc", "NS1", "M", "SOCS1", "M+SOCS1"], "range": ["#3E9C4E", "#4C7FD0", "#F4A25A", "#D0305E", "#4C7FD0"]}, "legend": null}}},
                {"transform": [{"filter": "isValid(datum.m)"}, {"flatten": ["pts"], "as": ["v"]}, {"window": [{"op": "row_number", "as": "k"}], "groupby": ["g"]}, {"joinaggregate": [{"op": "count", "as": "n"}], "groupby": ["g"]}, {"calculate": "datum.k - (datum.n + 1) / 2", "as": "o"}],
                 "mark": {"type": "circle", "size": 14, "color": "#000", "opacity": 1},
                 "encoding": {"y": {"field": "v", "type": "quantitative"}, "xOffset": {"field": "o", "type": "quantitative", "scale": {"domain": [-2, 2], "range": [-6, 6]}}}},
                {"transform": [{"filter": "isValid(datum.h)"}], "mark": {"type": "rule", "strokeWidth": 1.3, "color": "#222"},
                 "encoding": {"x": {"datum": 0, "type": "quantitative", "axis": null}, "x2": {"field": "ib"}, "y": {"field": "h", "type": "quantitative"}}},
                {"transform": [{"filter": "isValid(datum.h)"}], "mark": {"type": "tick", "orient": "vertical", "size": 6, "thickness": 1.3, "yOffset": 3, "color": "#222"},
                 "encoding": {"x": {"datum": 0, "type": "quantitative", "axis": null}, "y": {"field": "h", "type": "quantitative"}}},
                {"transform": [{"filter": "isValid(datum.h)"}], "mark": {"type": "tick", "orient": "vertical", "size": 6, "thickness": 1.3, "yOffset": 3, "color": "#222"},
                 "encoding": {"x": {"field": "ib", "type": "quantitative", "axis": null}, "y": {"field": "h", "type": "quantitative"}}},
                {"transform": [{"filter": "isValid(datum.h)"}], "mark": {"type": "text", "fontSize": 13, "dy": -9, "color": "#222"},
                 "encoding": {"x": {"field": "mid", "type": "quantitative", "axis": {"orient": "top", "title": "293T", "domain": false, "ticks": false, "labels": false, "titlePadding": 22}}, "y": {"field": "h", "type": "quantitative"}, "text": {"field": "p"}}}
              ]
            },
            {
              "width": 98, "height": 147,
              "transform": [{"filter": "datum.c == 'HepG2'"}],
              "encoding": {
                "x": {"field": "i", "type": "quantitative", "scale": {"domain": [-0.62, 3.55]}, "axis": null},
                "y": {"field": "m", "type": "quantitative", "scale": {"domain": [0, 2.315]}, "axis": {"values": [0, 0.5, 1, 1.5, 2], "format": ".1f", "title": null, "domain": false}}
              },
              "resolve": {"axis": {"x": "independent"}},
              "layer": [
                {"mark": {"type": "rule", "strokeWidth": 1.5, "color": "#1a1a1a"},
                 "encoding": {"x": {"datum": -0.62, "type": "quantitative", "axis": null}, "y": {"datum": 0, "type": "quantitative"}, "y2": {"datum": 2}}},
                {"transform": [{"filter": "isValid(datum.m)"}], "mark": {"type": "bar", "orient": "vertical", "width": 12, "strokeWidth": 1},
                 "encoding": {"x": {"field": "i", "type": "quantitative", "axis": {"values": [0, 1, 2, 3], "labelExpr": "['CT-Fluc', 'NS1', 'M', 'SOCS1'][datum.value]", "labelAngle": -90, "title": null}},
                              "fill": {"field": "g", "type": "nominal", "scale": {"domain": ["CT-Fluc", "NS1", "M", "SOCS1", "M+SOCS1"], "range": ["#4CA35B", "#2B4B9B", "#EB8629", "#8C1F43", "#2B4B9B"]}, "legend": null},
                              "stroke": {"field": "g", "type": "nominal", "scale": {"domain": ["CT-Fluc", "NS1", "M", "SOCS1", "M+SOCS1"], "range": ["#8CCB93", "#8FA3D3", "#F6BE8A", "#C48499", "#8FA3D3"]}, "legend": null}}},
                {"transform": [{"filter": "isValid(datum.m)"}], "mark": {"type": "rule", "strokeWidth": 1.5},
                 "encoding": {"y2": {"field": "hi"}, "color": {"field": "g", "type": "nominal", "scale": {"domain": ["CT-Fluc", "NS1", "M", "SOCS1", "M+SOCS1"], "range": ["#3E9C4E", "#4C7FD0", "#F4A25A", "#D0305E", "#4C7FD0"]}, "legend": null}}},
                {"transform": [{"filter": "isValid(datum.m)"}], "mark": {"type": "tick", "orient": "horizontal", "size": 7, "thickness": 1.5},
                 "encoding": {"y": {"field": "hi", "type": "quantitative"}, "color": {"field": "g", "type": "nominal", "scale": {"domain": ["CT-Fluc", "NS1", "M", "SOCS1", "M+SOCS1"], "range": ["#3E9C4E", "#4C7FD0", "#F4A25A", "#D0305E", "#4C7FD0"]}, "legend": null}}},
                {"transform": [{"filter": "isValid(datum.m)"}, {"flatten": ["pts"], "as": ["v"]}, {"window": [{"op": "row_number", "as": "k"}], "groupby": ["g"]}, {"joinaggregate": [{"op": "count", "as": "n"}], "groupby": ["g"]}, {"calculate": "datum.k - (datum.n + 1) / 2", "as": "o"}],
                 "mark": {"type": "circle", "size": 14, "color": "#000", "opacity": 1},
                 "encoding": {"y": {"field": "v", "type": "quantitative"}, "xOffset": {"field": "o", "type": "quantitative", "scale": {"domain": [-2, 2], "range": [-6, 6]}}}},
                {"transform": [{"filter": "isValid(datum.h)"}], "mark": {"type": "rule", "strokeWidth": 1.3, "color": "#222"},
                 "encoding": {"x": {"datum": 0, "type": "quantitative", "axis": null}, "x2": {"field": "ib"}, "y": {"field": "h", "type": "quantitative"}}},
                {"transform": [{"filter": "isValid(datum.h)"}], "mark": {"type": "tick", "orient": "vertical", "size": 6, "thickness": 1.3, "yOffset": 3, "color": "#222"},
                 "encoding": {"x": {"datum": 0, "type": "quantitative", "axis": null}, "y": {"field": "h", "type": "quantitative"}}},
                {"transform": [{"filter": "isValid(datum.h)"}], "mark": {"type": "tick", "orient": "vertical", "size": 6, "thickness": 1.3, "yOffset": 3, "color": "#222"},
                 "encoding": {"x": {"field": "ib", "type": "quantitative", "axis": null}, "y": {"field": "h", "type": "quantitative"}}},
                {"transform": [{"filter": "isValid(datum.h)"}], "mark": {"type": "text", "fontSize": 13, "dy": -9, "color": "#222"},
                 "encoding": {"x": {"field": "mid", "type": "quantitative", "axis": {"orient": "top", "title": "HepG2", "domain": false, "ticks": false, "labels": false, "titlePadding": 22}}, "y": {"field": "h", "type": "quantitative"}, "text": {"field": "p"}}}
              ]
            }
          ]
        },
        {
          "title": {"text": "g", "anchor": "start", "frame": "bounds", "fontSize": 24, "fontWeight": "bold", "offset": -15},
          "width": 133, "height": 144,
          "transform": [{"filter": "datum.c == 'g'"}],
          "encoding": {
            "x": {"field": "i", "type": "quantitative", "scale": {"domain": [-0.48, 3.55]}, "axis": {"values": [0, 1, 2, 3], "labelExpr": "['CT-Fluc', 'M', 'SOCS1', 'M+SOCS1'][datum.value]", "labelAngle": -90, "title": null}},
            "y": {"field": "m", "type": "quantitative", "scale": {"domain": [0, 3]}, "axis": {"values": [0, 1, 2, 3], "title": "Relative Fluc activity"}}
          },
          "layer": [
            {"transform": [{"filter": "isValid(datum.m)"}], "mark": {"type": "bar", "orient": "vertical", "width": 17, "strokeWidth": 1},
             "encoding": {"fill": {"field": "g", "type": "nominal", "scale": {"domain": ["CT-Fluc", "NS1", "M", "SOCS1", "M+SOCS1"], "range": ["#4CA35B", "#2B4B9B", "#EB8629", "#8C1F43", "#2B4B9B"]}, "legend": null},
                          "stroke": {"field": "g", "type": "nominal", "scale": {"domain": ["CT-Fluc", "NS1", "M", "SOCS1", "M+SOCS1"], "range": ["#8CCB93", "#8FA3D3", "#F6BE8A", "#C48499", "#8FA3D3"]}, "legend": null}}},
            {"transform": [{"filter": "isValid(datum.m)"}], "mark": {"type": "rule", "strokeWidth": 1.5},
             "encoding": {"y2": {"field": "hi"}, "color": {"field": "g", "type": "nominal", "scale": {"domain": ["CT-Fluc", "NS1", "M", "SOCS1", "M+SOCS1"], "range": ["#3E9C4E", "#4C7FD0", "#F4A25A", "#D0305E", "#4C7FD0"]}, "legend": null}}},
            {"transform": [{"filter": "isValid(datum.m)"}], "mark": {"type": "tick", "orient": "horizontal", "size": 9, "thickness": 1.5},
             "encoding": {"y": {"field": "hi", "type": "quantitative"}, "color": {"field": "g", "type": "nominal", "scale": {"domain": ["CT-Fluc", "NS1", "M", "SOCS1", "M+SOCS1"], "range": ["#3E9C4E", "#4C7FD0", "#F4A25A", "#D0305E", "#4C7FD0"]}, "legend": null}}},
            {"transform": [{"filter": "isValid(datum.m)"}, {"flatten": ["pts"], "as": ["v"]}, {"window": [{"op": "row_number", "as": "k"}], "groupby": ["g"]}, {"joinaggregate": [{"op": "count", "as": "n"}], "groupby": ["g"]}, {"calculate": "datum.k - (datum.n + 1) / 2", "as": "o"}],
             "mark": {"type": "circle", "size": 16, "color": "#000", "opacity": 1},
             "encoding": {"y": {"field": "v", "type": "quantitative"}, "xOffset": {"field": "o", "type": "quantitative", "scale": {"domain": [-2, 2], "range": [-8, 8]}}}},
            {"transform": [{"filter": "isValid(datum.h)"}], "mark": {"type": "rule", "strokeWidth": 1.3, "color": "#222"},
             "encoding": {"x": {"datum": 0, "type": "quantitative"}, "x2": {"field": "ib"}, "y": {"field": "h", "type": "quantitative"}}},
            {"transform": [{"filter": "isValid(datum.h)"}], "mark": {"type": "tick", "orient": "vertical", "size": 6, "thickness": 1.3, "yOffset": 3, "color": "#222"},
             "encoding": {"x": {"datum": 0, "type": "quantitative"}, "y": {"field": "h", "type": "quantitative"}}},
            {"transform": [{"filter": "isValid(datum.h)"}], "mark": {"type": "tick", "orient": "vertical", "size": 6, "thickness": 1.3, "yOffset": 3, "color": "#222"},
             "encoding": {"x": {"field": "ib", "type": "quantitative"}, "y": {"field": "h", "type": "quantitative"}}},
            {"transform": [{"filter": "isValid(datum.h)"}], "mark": {"type": "text", "fontSize": 13, "dy": -9, "color": "#222"},
             "encoding": {"x": {"field": "mid", "type": "quantitative"}, "y": {"field": "h", "type": "quantitative"}, "text": {"field": "p"}}}
          ]
        }
      ]
    }
  ]
}
